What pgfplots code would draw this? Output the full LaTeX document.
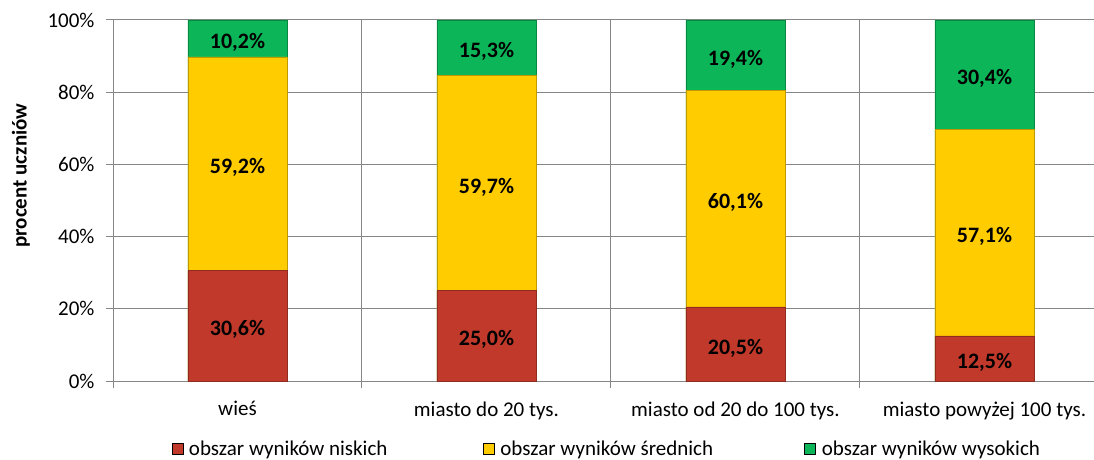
\documentclass[border=0pt]{standalone}
\usepackage{fontspec}
\setmainfont{Carlito}
\usepackage{pgfplots}
\usepackage{pgfplotstable}
\pgfplotsset{compat=1.18}

\definecolor{niski}{RGB}{192,57,43}
\definecolor{sredni}{RGB}{255,204,0}
\definecolor{wysoki}{RGB}{12,182,88}
\definecolor{siatka}{RGB}{134,134,134}

\pgfplotstableread{
x low mid high
0 30.6 59.2 10.2
1 25.0 59.7 15.3
2 20.5 60.1 19.4
3 12.5 57.1 30.4
}\wyniki

% bars are drawn back to front from 0 up to the running total, so no stacking is needed
\pgfplotsset{
  seg/.style={
    ybar, bar width=99pt, bar shift=0pt,
    fill=#1, draw=#1!75!black, line width=0.6pt,
  },
  lab/.style={
    only marks, mark=none,
    nodes near coords={\textbf{\pgfmathprintnumber[fixed,fixed zerofill,precision=1,use comma]{\pgfplotspointmeta}\%}},
    point meta=\thisrow{#1},
    every node near coord/.style={anchor=center, yshift=-4pt, font=\fontsize{22}{25}\selectfont},
  },
}

\begin{document}
\begin{tikzpicture}[x=1pt,y=1pt]
\useasboundingbox (0,0) rectangle (1094,459);
\begin{axis}[
  at={(113pt,78pt)}, anchor=south west,
  scale only axis, width=981pt, height=361pt,
  xmin=-0.5, xmax=3.44, ymin=0, ymax=100,
  axis lines*=left,
  axis line style={siatka, line width=1pt},
  /pgf/number format/assume math mode=true,
  tick align=outside,
  major tick length=7pt,
  tick style={siatka, line width=1pt},
  grid style={siatka, line width=1pt},
  ytick={0,20,40,60,80,100},
  yticklabels={0\%,20\%,40\%,60\%,80\%,100\%},
  yticklabel style={xshift=-8pt},
  ymajorgrids,
  xtick={-0.5,0.5,1.5,2.5},
  xticklabels={},
  xmajorgrids,
  extra x ticks={0,1,2,3},
  extra x tick labels={wieś, miasto do 20 tys., miasto od 20 do 100 tys., miasto powyżej 100 tys.},
  extra x tick style={major tick length=0pt, xmajorgrids=false},
  ticklabel style={font=\fontsize{21}{24}\selectfont},
  xticklabel style={yshift=-17pt},
  ylabel={\textbf{procent uczniów}},
  every axis y label/.style={at={(axis description cs:-0.0938,0.569)}, rotate=90, anchor=center,
    font=\fontsize{21}{24}\selectfont},
  legend style={at={(0.0595,-0.16)}, anchor=north west, draw=none, fill=none,
    font=\fontsize{21}{24}\selectfont, inner sep=0pt},
  legend columns=3,
  legend image code/.code={\fill[#1] (0pt,-5pt) rectangle (11pt,6pt);},
  clip=false,
]
\addlegendimage{fill=niski}
\addlegendentry{\hspace{4pt}\makebox[292pt][l]{obszar wyników niskich}}
\addlegendimage{fill=sredni}
\addlegendentry{\hspace{4pt}\makebox[302pt][l]{obszar wyników średnich}}
\addlegendimage{fill=wysoki}
\addlegendentry{\hspace{4pt}obszar wyników wysokich}
\addplot[seg=wysoki, forget plot] table[x=x, y expr=\thisrow{low}+\thisrow{mid}+\thisrow{high}] {\wyniki};
\addplot[seg=sredni, forget plot] table[x=x, y expr=\thisrow{low}+\thisrow{mid}] {\wyniki};
\addplot[seg=niski, forget plot] table[x=x, y=low] {\wyniki};
\addplot[lab=low, forget plot] table[x=x, y expr=\thisrow{low}/2] {\wyniki};
\addplot[lab=mid, forget plot] table[x=x, y expr=\thisrow{low}+\thisrow{mid}/2] {\wyniki};
\addplot[lab=high, forget plot] table[x=x, y expr=\thisrow{low}+\thisrow{mid}+\thisrow{high}/2] {\wyniki};
\end{axis}
\end{tikzpicture}
\end{document}
